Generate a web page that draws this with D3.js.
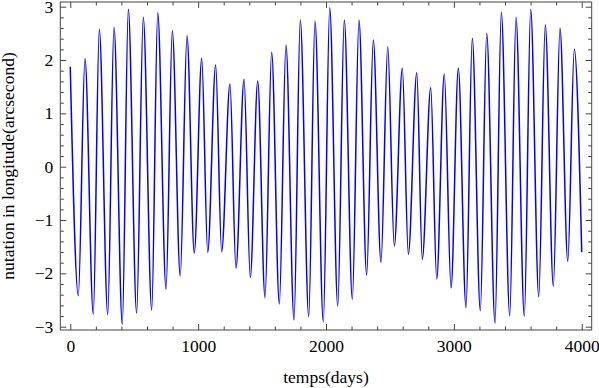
<!DOCTYPE html>
<html>
<head>
<meta charset="utf-8">
<script src="https://cdn.jsdelivr.net/npm/d3@7"></script>
<style>
  body { margin: 0; background: #fff; }
  svg { display: block; }
  text { font-family: "Liberation Serif", "Times New Roman", serif; font-size: 17.5px; fill: #000; }
  .axis path { display: none; }
  .axis line { stroke: #444; }
</style>
</head>
<body>
<svg width="599" height="388"></svg>
<script>
// extrema (day, arcsecond)
var peakDays  = [0, 115, 227, 342, 454, 571, 684, 798, 913, 1028, 1137, 1249, 1359, 1466, 1575, 1687,
                 1799, 1914, 2029, 2143, 2258, 2370, 2483, 2597, 2710, 2819, 2925, 3035, 3144, 3257,
                 3371, 3486, 3601, 3715, 3830, 3942];
var peakVals  = [1.875, 2.03, 2.576, 2.614, 2.951, 2.801, 2.888, 2.55, 2.456, 2.033, 1.907, 1.551, 1.639,
                 1.607, 2.145, 2.282, 2.751, 2.732, 2.981, 2.751, 2.751, 2.376, 2.25, 1.845, 1.763, 1.481,
                 1.738, 1.845, 2.408, 2.501, 2.895, 2.801, 2.951, 2.663, 2.595, 2.201];
var troughDays = [63, 180, 293, 407, 519, 637, 749, 860, 970, 1075, 1184, 1296, 1408, 1523, 1635, 1750,
                  1865, 1979, 2092, 2206, 2318, 2430, 2534, 2644, 2753, 2866, 2978, 3095, 3207, 3322,
                  3437, 3551, 3664, 3778, 3891, 4000];
var troughVals = [-2.419, -2.768, -2.775, -2.955, -2.749, -2.693, -2.293, -2.049, -1.618, -1.605, -1.594,
                  -1.905, -2.074, -2.456, -2.575, -2.875, -2.813, -2.906, -2.612, -2.486, -2.031, -1.793,
                  -1.487, -1.643, -1.736, -2.106, -2.275, -2.644, -2.7, -2.936, -2.794, -2.805, -2.438,
                  -2.237, -1.774, -1.605];

var xMajor = [0, 1000, 2000, 3000, 4000];
var xMinor = [200, 400, 600, 800, 1200, 1400, 1600, 1800, 2200, 2400, 2600, 2800, 3200, 3400, 3600, 3800];
var yMajor = [-3, -2, -1, 0, 1, 2, 3];
var yMinor = d3.range(-2.8, 3, 0.2).map(function(v) { return Math.round(v * 10) / 10; })
    .filter(function(v) { return yMajor.indexOf(v) < 0; });

var frameLeft = 60.3, frameRight = 591.7, frameTop = 2, frameBottom = 330;

var svg = d3.select("svg");

var xScale = d3.scaleLinear().domain([-78, 4078]).range([frameLeft, frameRight]);
var yScale = d3.scaleLinear().domain([-3.062, 3.088]).range([frameBottom, frameTop]);

// merge peaks and troughs into one ordered series
var points = peakDays.map(function(d, i) { return {day: d, val: peakVals[i]}; })
    .concat(troughDays.map(function(d, i) { return {day: d, val: troughVals[i]}; }))
    .sort(function(a, b) { return a.day - b.day; });

var line = d3.line()
    .x(function(d) { return xScale(d.day); })
    .y(function(d) { return yScale(d.val); })
    .curve(d3.curveMonotoneX);

svg.append("path")
    .datum(points)
    .attr("d", line)
    .attr("fill", "none")
    .attr("stroke", "#0000ff")
    .attr("stroke-width", 1.5);

// frame ticks, pointing inward on all four sides
function addAxis(axis, tx, ty) {
  svg.append("g")
      .attr("class", "axis")
      .attr("transform", "translate(" + tx + "," + ty + ")")
      .call(axis);
}
var noLabel = function() { return ""; };

addAxis(d3.axisBottom(xScale).tickValues(xMajor).tickSizeInner(-6).tickSizeOuter(0).tickPadding(10).tickFormat(d3.format("d")), 0, frameBottom);
addAxis(d3.axisBottom(xScale).tickValues(xMinor).tickSizeInner(-3.5).tickSizeOuter(0).tickFormat(noLabel), 0, frameBottom);
addAxis(d3.axisTop(xScale).tickValues(xMajor).tickSizeInner(-6).tickSizeOuter(0).tickFormat(noLabel), 0, frameTop);
addAxis(d3.axisTop(xScale).tickValues(xMinor).tickSizeInner(-3.5).tickSizeOuter(0).tickFormat(noLabel), 0, frameTop);

addAxis(d3.axisLeft(yScale).tickValues(yMajor).tickSizeInner(-6).tickSizeOuter(0).tickPadding(7)
    .tickFormat(function(d) { return d < 0 ? "\u2212" + (-d) : d; }), frameLeft, 0);
addAxis(d3.axisLeft(yScale).tickValues(yMinor).tickSizeInner(-3.5).tickSizeOuter(0).tickFormat(noLabel), frameLeft, 0);
addAxis(d3.axisRight(yScale).tickValues(yMajor).tickSizeInner(-6).tickSizeOuter(0).tickFormat(noLabel), frameRight, 0);
addAxis(d3.axisRight(yScale).tickValues(yMinor).tickSizeInner(-3.5).tickSizeOuter(0).tickFormat(noLabel), frameRight, 0);

svg.selectAll(".axis text")
    .style("font-family", "'Liberation Serif', 'Times New Roman', serif")
    .style("font-size", "17.5px")
    .attr("fill", "#000");

svg.append("rect")
    .attr("x", frameLeft)
    .attr("y", frameTop)
    .attr("width", frameRight - frameLeft)
    .attr("height", frameBottom - frameTop)
    .attr("fill", "none")
    .attr("stroke", "#444")
    .attr("stroke-width", 1);

svg.append("text")
    .attr("x", (frameLeft + frameRight) / 2)
    .attr("y", 383)
    .attr("text-anchor", "middle")
    .text("temps(days)");

svg.append("text")
    .attr("transform", "translate(14,166) rotate(-90)")
    .attr("text-anchor", "middle")
    .text("nutation in longitude(arcsecond)");
</script>
</body>
</html>
